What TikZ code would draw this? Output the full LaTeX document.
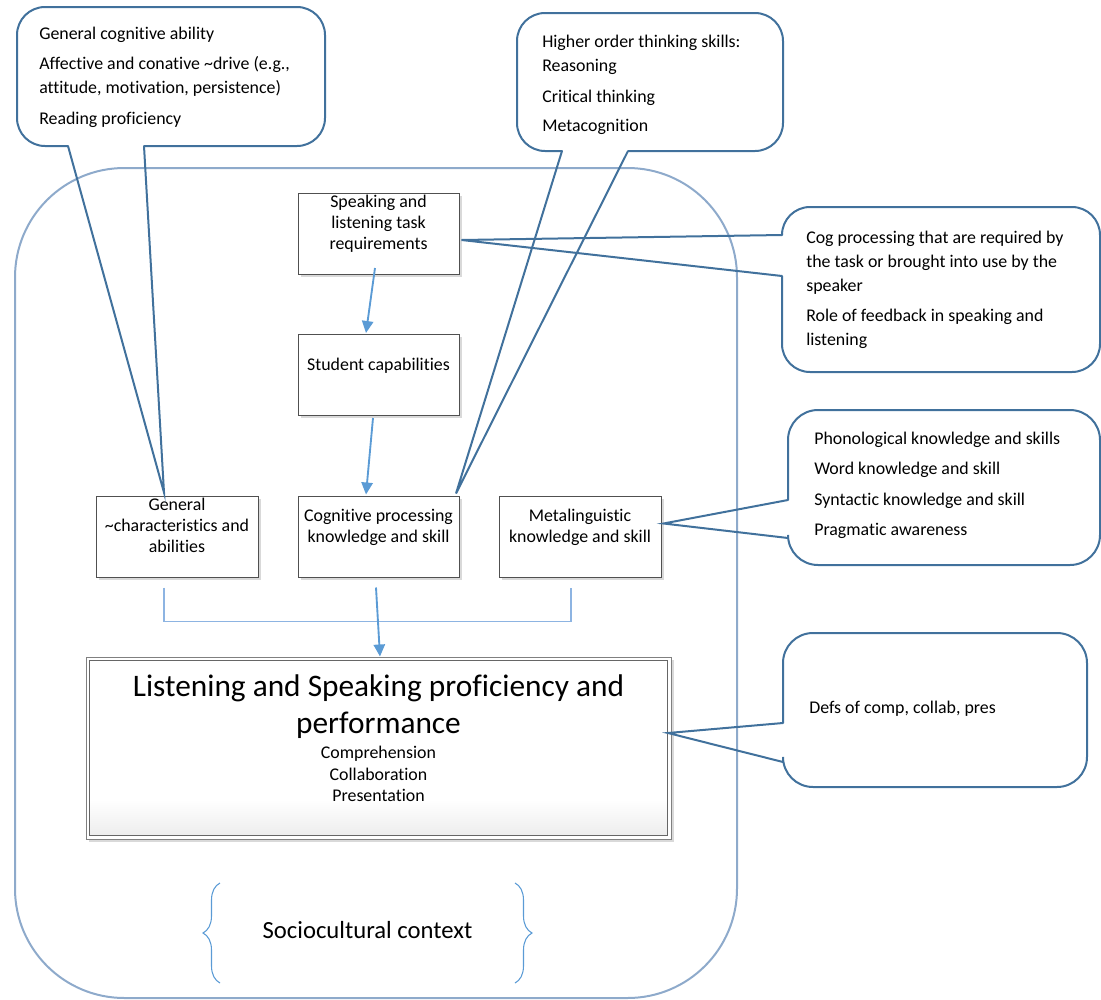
\documentclass[tikz,border=0pt]{standalone}
\usepackage{fontspec}
\setmainfont{Carlito}[Ligatures={NoCommon,NoContextual}]
\usetikzlibrary{arrows.meta,calc,shadows,decorations.pathreplacing}

\definecolor{ctxline}{HTML}{8EAACB}
\definecolor{callline}{HTML}{41719C}
\definecolor{arrowblue}{HTML}{5B9BD5}
\definecolor{linkblue}{HTML}{8DB4E2}
\definecolor{boxline}{HTML}{505050}

\begin{document}
\begin{tikzpicture}[x=0.75pt,y=-0.75pt,
  bodyfont/.style={font=\fontsize{13.4}{15.75}\selectfont},
  box/.style={draw=boxline, line width=0.75pt, fill=white, inner sep=0pt,
    minimum width=120.75pt, minimum height=60.75pt,
    drop shadow={shadow xshift=2.2pt, shadow yshift=-2.2pt, fill=black!15, opacity=1}},
  boxtext/.style={bodyfont, inner sep=0pt, align=center, anchor=north},
  calltext/.style={font=\fontsize{13.4}{18}\selectfont, inner sep=0pt, align=left, anchor=north west},
  callout/.style={draw=callline, line width=1.5pt, rounded corners=21pt},
  pointer/.style={draw=callline, line width=1.5pt, line cap=round, line join=miter},
  arr/.style={draw=arrowblue, line width=1.4pt, -{Triangle[length=9pt,width=8.5pt]}},
  link/.style={draw=linkblue, line width=0.9pt},
  context/.style={draw=ctxline, line width=1.5pt, rounded corners=82pt},
  bracket/.style={draw=arrowblue, line width=0.8pt, decorate,
    decoration={brace, amplitude=12.75pt}}
]
\useasboundingbox (0,0) rectangle (1101,1000);

% sociocultural frame
\draw[context] (15,168) rectangle (737,998);
\draw[bracket] (220,983) -- (220,883);
\draw[bracket] (515,883) -- (515,983);
\node[font=\fontsize{18.5}{22}\selectfont, inner sep=0pt, anchor=base] (ctxlabel) at (367.5,938) {Sociocultural context};

% boxes
\node[box] (req)  at (378.5,234)   {};
\node[box] (cap)  at (378.5,375)   {};
\node[box, minimum width=121.5pt] (gen)  at (177,536.5) {};
\node[box] (cog)  at (378.5,536.5) {};
\node[box, minimum width=121.5pt] (meta) at (580,536.5) {};

\node[boxtext] (reqtext)  at (378.5,194.5) {Speaking and\\listening task\\requirements};
\node[bodyfont, inner sep=0pt, anchor=base] (captext) at (378.5,370) {Student capabilities};
\node[boxtext] (gentext)  at (177,497.5)   {General\\\textasciitilde characteristics and\\abilities};
\node[boxtext] (cogtext)  at (378.5,508.5) {Cognitive processing\\knowledge and skill};
\node[boxtext] (metatext) at (580,508.5)   {Metalinguistic\\knowledge and skill};

% outcome box with double border
\node[draw=black!50, line width=0.75pt, fill=white, inner sep=0pt,
      minimum width=438.75pt, minimum height=136.5pt,
      drop shadow={shadow xshift=2.2pt, shadow yshift=-2.2pt, fill=black!15, opacity=1}]
      (main) at (378.5,748) {};
\fill[top color=white, bottom color=black!7]
  ($(main.south west)+(4,-40)$) rectangle ($(main.south east)+(-4,-4)$);
\draw[black!60, line width=0.75pt] ($(main.north west)+(4,4)$) rectangle ($(main.south east)+(-4,-4)$);
\node[font=\fontsize{23.5}{27.75}\selectfont, inner sep=0pt, align=center, anchor=north]
  (maintitle) at (378.5,674) {Listening and Speaking proficiency and\\performance};
\node[font=\fontsize{13.4}{16.1}\selectfont, inner sep=0pt, align=center, anchor=north]
  (mainlist) at (378.5,746) {Comprehension\\Collaboration\\Presentation};

% flow arrows
\draw[arr] ($(req.south)+(-3.5,-7)$) -- ($(cap.north)+(-12.5,-1)$);
\draw[arr] ($(cap.south)+(-5.5,2)$) -- ($(cog.north)+(-12.5,-1)$);
\draw[link] ($(gen.south)+(-13,10)$) |- ($(meta.south)+(-9,44)$) -- ($(meta.south)+(-9,10)$);
\draw[arr] ($(cog.south)+(-2.5,10)$) -- ($(main.north)+(1.5,0)$);

% callout tips
\coordinate (tA) at ($(gen.north)+(-13,-3)$);
\coordinate (tB) at ($(cog.north east)+(-3.5,-2)$);
\coordinate (tC) at ($(req.east)+(2,6)$);
\coordinate (tD) at ($(meta.east)+(2,-13)$);
\coordinate (tE) at ($(main.east)+(-3.5,-15)$);

% callout: general abilities
\draw[callout] (144,146) -- (325,146) -- (325,7) -- (17,7) -- (17,146) -- (68,146);
\draw[pointer] (68,146) -- (tA) -- (144,146);
\node[calltext] (calloutA) at (39,26.5) {General cognitive ability\\[4.9pt]
  Affective and conative \textasciitilde drive (e.g.,\\
  attitude, motivation, persistence)\\[4.9pt]
  Reading proficiency};

% callout: higher order thinking
\draw[callout] (628,151) -- (783,151) -- (783,13) -- (517,13) -- (517,151) -- (562,151);
\draw[pointer] (562,151) -- (tB) -- (628,151);
\node[calltext] (calloutB) at (542,34.5) {Higher order thinking skills:\\
  Reasoning\\[5.2pt]
  Critical thinking\\[4.2pt]
  Metacognition};

% callout: task requirements
\draw[callout] (782,235) -- (782,207) -- (1100,207) -- (1100,372) -- (782,372) -- (782,276);
\draw[pointer] (782,235) -- (tC) -- (782,276);
\node[calltext] (calloutC) at (806,230.5) {Cog processing that are required by\\
  the task or brought into use by the\\
  speaker\\[4.5pt]
  Role of feedback in speaking and\\
  listening};

% callout: metalinguistic
\draw[callout, rounded corners=22.5pt] (788,500) -- (788,410) -- (1100,410) -- (1100,565) -- (788,565) -- (788,538);
\draw[pointer] (788,500) -- (tD) -- (788,538);
\node[calltext] (calloutD) at (814,431.5) {Phonological knowledge and skills\\[4.9pt]
  Word knowledge and skill\\[4.9pt]
  Syntactic knowledge and skill\\[4.9pt]
  Pragmatic awareness};

% callout: definitions
\draw[callout, rounded corners=22.5pt] (783,723) -- (783,633) -- (1087,633) -- (1087,787) -- (783,787) -- (783,762);
\draw[pointer] (783,723) -- (tE) -- (783,762);
\node[font=\fontsize{13.4}{18}\selectfont, inner sep=0pt, anchor=base west] (calloutE) at (809,713) {Defs of comp, collab, pres};

\end{tikzpicture}
\end{document}
